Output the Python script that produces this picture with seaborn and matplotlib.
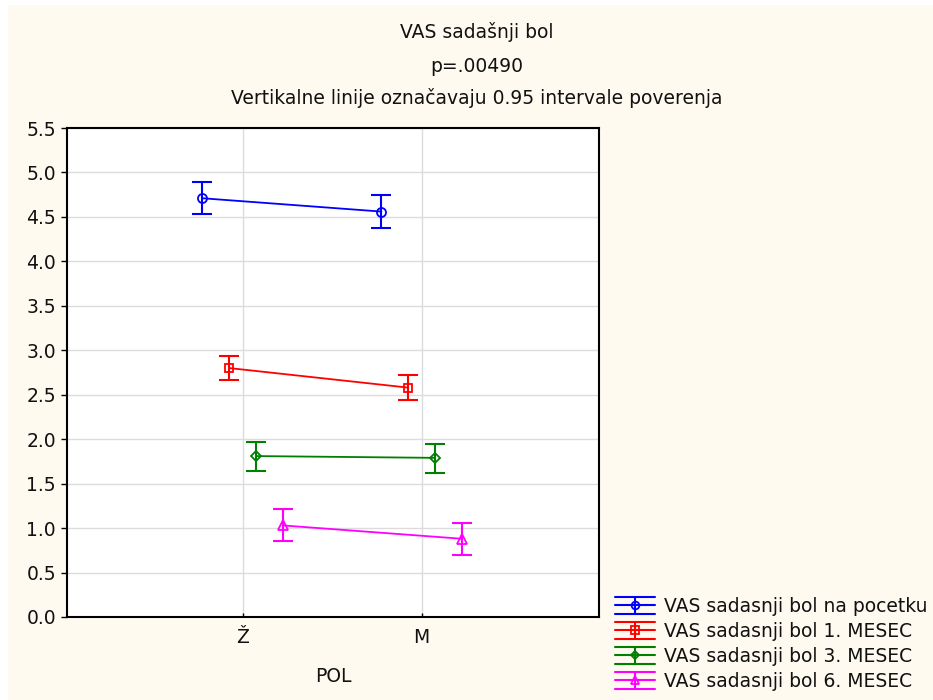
import numpy as np
import pandas as pd
import matplotlib
matplotlib.use("Agg")
import matplotlib.pyplot as plt
from matplotlib.lines import Line2D
from matplotlib.legend_handler import HandlerBase
import seaborn as sns

# Means and 0.95 confidence limits per sex group
groups = ["Ž", "M"]
series = [
    "VAS sadasnji bol na pocetku",
    "VAS sadasnji bol 1. MESEC",
    "VAS sadasnji bol 3. MESEC",
    "VAS sadasnji bol 6. MESEC",
]
mean_pocetak = [4.71, 4.56]
low_pocetak = [4.53, 4.37]
high_pocetak = [4.89, 4.75]

mean_m1 = [2.80, 2.58]
low_m1 = [2.67, 2.44]
high_m1 = [2.94, 2.72]

mean_m3 = [1.81, 1.79]
low_m3 = [1.64, 1.62]
high_m3 = [1.97, 1.95]

mean_m6 = [1.03, 0.88]
low_m6 = [0.85, 0.70]
high_m6 = [1.21, 1.06]

yticks = [0.0, 0.5, 1.0, 1.5, 2.0, 2.5, 3.0, 3.5, 4.0, 4.5, 5.0, 5.5]

colors = ["#0000FF", "#FF0000", "#008000", "#FF00FF"]
markers = ["o", "s", "D", "^"]
msizes = [6.5, 6.0, 5.0, 7.0]

means = [mean_pocetak, mean_m1, mean_m3, mean_m6]
lows = [low_pocetak, low_m1, low_m3, low_m6]
highs = [high_pocetak, high_m1, high_m3, high_m6]

rows = []
for s, m, lo, hi in zip(series, means, lows, highs):
    for g, mv, lv, hv in zip(groups, m, lo, hi):
        rows.append({"POL": g, "serija": s, "vrednost": mv, "donja": lv, "gornja": hv})
df = pd.DataFrame(rows)

sns.set_theme(style="white")
plt.rcParams["font.family"] = ["DejaVu Sans"]
FS = 13.5
TXT = "#111111"

fig = plt.figure(figsize=(9.33, 7.0), dpi=100)
fig.patch.set_facecolor("white")
# cream page area
fig.patches.append(plt.Rectangle((8 / 933, 0), 1, 1 - 5 / 700, transform=fig.transFigure,
                                 facecolor="#FFFAF0", edgecolor="none", zorder=-10))

ax = fig.add_axes([67 / 933, 1 - 617 / 700, (599 - 67) / 933, (617 - 128) / 700])
ax.set_facecolor("white")

sns.pointplot(data=df, x="POL", y="vrednost", hue="serija", order=groups,
              hue_order=series, palette=colors, markers=markers, linestyles="-",
              dodge=0.45, errorbar=None, legend=False, ax=ax,
              markersize=6, linewidth=1.3, markerfacecolor="none",
              markeredgewidth=1.3, zorder=3)

point_lines = ax.lines[:len(series)]
for i, (ln, s) in enumerate(zip(point_lines, series)):
    ln.set_markerfacecolor("none")
    ln.set_markersize(msizes[i])
    ln.set_markeredgewidth(1.3)
    sub = df[df["serija"] == s].set_index("POL").loc[groups]
    xs = np.asarray(ln.get_xdata(), dtype=float)
    y = sub["vrednost"].to_numpy()
    err = np.vstack([y - sub["donja"].to_numpy(), sub["gornja"].to_numpy() - y])
    ax.errorbar(xs, y, yerr=err, fmt="none", ecolor=colors[i], elinewidth=1.5,
                capsize=7, capthick=1.5, zorder=2)

ax.set_xlim(-0.98, 1.99)
ax.set_ylim(0, 5.5)
ax.set_yticks(yticks)
ax.set_yticklabels([f"{v:.1f}" for v in yticks])
ax.grid(True, color="#DCDCDC", linewidth=1.0)
ax.set_axisbelow(True)
for sp in ax.spines.values():
    sp.set_visible(True)
    sp.set_color("black")
    sp.set_linewidth(1.5)

ax.tick_params(axis="y", direction="out", length=4, width=1, color="black",
               labelsize=FS, pad=4, left=True, right=False)
ax.tick_params(axis="x", direction="in", length=3, width=1, color="black",
               labelsize=FS, pad=8, bottom=True)
ax.set_ylabel("")
ax.set_xlabel("POL", fontsize=FS, labelpad=14, color=TXT)
for t in ax.get_xticklabels() + ax.get_yticklabels():
    t.set_color(TXT)

# titles
cx = 477 / 933
fig.text(cx, 1 - 32 / 700, "VAS sadašnji bol", ha="center", va="center", fontsize=FS, color=TXT)
fig.text(cx, 1 - 66 / 700, "p=.00490", ha="center", va="center", fontsize=FS, color=TXT)
fig.text(cx, 1 - 98 / 700, "Vertikalne linije označavaju 0.95 intervale poverenja",
         ha="center", va="center", fontsize=FS, color=TXT)


class HandlerCI(HandlerBase):
    """Legend glyph: mean line with marker framed by two CI bars."""

    def create_artists(self, legend, orig_handle, xdescent, ydescent, width, height,
                       fontsize, trans):
        c = orig_handle.get_color()
        mk = orig_handle.get_marker()
        ms = orig_handle.get_markersize()
        x0, x1 = -xdescent, -xdescent + width
        cy = -ydescent + height / 2
        dy = height / 2
        xm = (x0 + x1) / 2
        arts = [
            Line2D([x0, x1], [cy, cy], color=c, lw=1.5),
            Line2D([x0, x1], [cy + dy, cy + dy], color=c, lw=1.5),
            Line2D([x0, x1], [cy - dy, cy - dy], color=c, lw=1.5),
            Line2D([xm, xm], [cy - dy, cy + dy], color=c, lw=1.5),
            Line2D([xm], [cy], marker=mk, markersize=ms, markerfacecolor="none",
                   markeredgecolor=c, markeredgewidth=1.3, lw=0),
        ]
        for a in arts:
            a.set_transform(trans)
        return arts


handles = [Line2D([], [], color=c, marker=m, markersize=ms * 0.85)
           for c, m, ms in zip(colors, markers, msizes)]
fig.legend(handles, series, handler_map={Line2D: HandlerCI()},
           loc="lower left", bbox_to_anchor=(611 / 933, 5 / 700), frameon=False,
           fontsize=FS, handlelength=2.1, handleheight=1.05, handletextpad=0.5,
           labelspacing=0.32, borderpad=0.22, borderaxespad=0.0, labelcolor=TXT)

fig.savefig("out.png", dpi=100, facecolor=fig.get_facecolor())
